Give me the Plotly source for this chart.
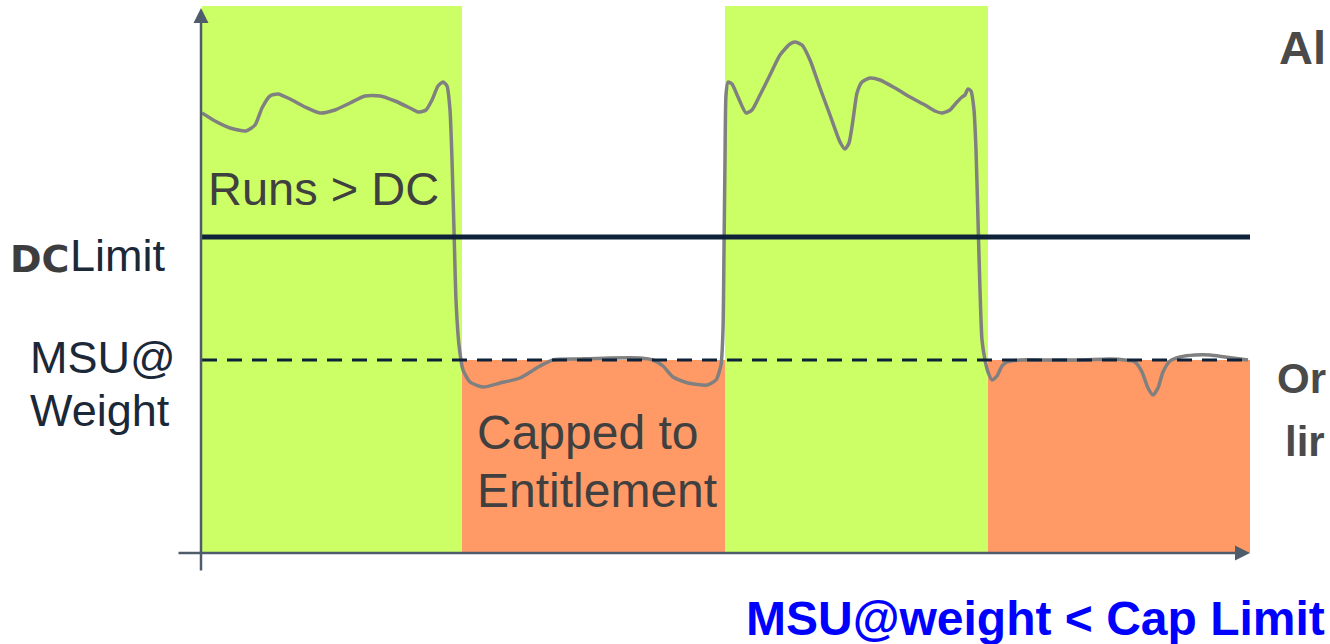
import plotly.graph_objects as go

# ---------------- data ----------------
# time axis runs 0..1048, usage axis 0..547
phase_start = [0, 260, 523, 786]
phase_end = [260, 523, 786, 1048]
phase_kind = ["runs", "capped", "runs", "capped"]
DC_LIMIT = 316
MSU_WEIGHT = 193
TOP = 547

time_pts = [0, 13, 28, 44, 53, 60, 68, 76, 88, 103, 118, 133, 148, 163, 178, 193, 208, 216,
            224, 230, 236, 241, 245, 248, 250, 252, 254, 257, 261, 268, 281, 298, 318, 338,
            351, 378, 408, 438, 451, 461, 471, 486, 505, 514, 519, 521, 522, 523, 524, 526,
            530, 536, 544, 550, 558, 568, 578, 588, 593, 600, 608, 618, 628, 638, 643, 647,
            651, 655, 660, 668, 678, 693, 708, 723, 733, 740, 748, 755, 760, 763, 766, 769,
            772, 774, 776, 778, 780, 783, 786, 790, 795, 800, 805, 818, 848, 878, 908, 923,
            933, 940, 946, 951, 956, 961, 968, 978, 993, 1008, 1023, 1046]
usage_pts = [440, 432, 425, 422, 428, 445, 457, 459, 454, 446, 440, 443, 450, 457, 457, 452,
             445, 441, 443, 453, 467, 471, 467, 443, 393, 323, 253, 208, 183, 171, 166, 170,
             175, 187, 193, 194, 195, 195, 193, 187, 176, 170, 168, 173, 188, 223, 303, 393,
             458, 471, 469, 456, 440, 443, 458, 478, 498, 509, 511, 508, 493, 465, 438, 411,
             404, 410, 433, 460, 471, 475, 473, 465, 456, 448, 442, 440, 443, 451, 456, 458,
             464, 462, 443, 403, 333, 263, 213, 193, 181, 173, 177, 187, 191, 193, 193, 193,
             194, 193, 191, 181, 165, 158, 165, 181, 192, 196, 198, 198, 196, 193]

label_runs = "Runs > DC"
label_capped = ["Capped to", "Entitlement"]
label_msu = ["MSU@", "Weight"]
label_dc = ["DC", "Limit"]
label_bottom = "MSU@weight < Cap Limit"
label_right = ["Al", "Or", "lir"]

# ---------------- layout geometry ----------------
W, H = 1330, 644
L, R, T, B = 202, 80, 6, 91
PW, PH = W - L - R, H - T - B


def px(x):
    return (x - L) / PW


def py(y):
    return (H - B - y) / PH


GREEN = "#ccff66"
ORANGE = "#ff9966"
NAVY = "#0e2339"
AXIS = "#4f5d6b"
TEXT = "#404040"

fig = go.Figure()

shapes = []
for s, e, k in zip(phase_start, phase_end, phase_kind):
    shapes.append(dict(type="rect", xref="x", yref="y", x0=s, x1=e, y0=0,
                       y1=TOP if k == "runs" else MSU_WEIGHT,
                       fillcolor=GREEN if k == "runs" else ORANGE,
                       line=dict(width=0), layer="below"))
# DC limit line
shapes.append(dict(type="line", xref="x", yref="y", x0=0, x1=phase_end[-1],
                   y0=DC_LIMIT, y1=DC_LIMIT, line=dict(color=NAVY, width=5)))
# MSU@weight dashed line
shapes.append(dict(type="line", xref="x", yref="y", x0=0, x1=phase_end[-1],
                   y0=MSU_WEIGHT, y1=MSU_WEIGHT,
                   line=dict(color=NAVY, width=3, dash="15px,10px")))
fig.update_layout(shapes=shapes)

fig.add_trace(go.Scatter(x=time_pts, y=usage_pts, mode="lines",
                         line=dict(color="#808080", width=3.5, shape="spline", smoothing=0.6),
                         hoverinfo="skip", showlegend=False))

annotations = []
# axes with arrowheads
annotations.append(dict(xref="paper", yref="paper", x=px(1250), y=py(553), ax=-(1250 - 177),
                        ay=0, showarrow=True, arrowhead=2, arrowsize=1.2, arrowwidth=2.5,
                        arrowcolor=AXIS, text=""))
annotations.append(dict(xref="paper", yref="paper", x=px(201), y=py(8), ax=0, ay=(572 - 8),
                        showarrow=True, arrowhead=2, arrowsize=1.2, arrowwidth=2.5,
                        arrowcolor=AXIS, text=""))

FONT = "Liberation Sans, Arial, sans-serif"


def txt(s, x, y, size, color, xanchor="left", bold=False, family=FONT):
    annotations.append(dict(xref="paper", yref="paper", x=px(x), y=py(y),
                            text=("<b>%s</b>" % s) if bold else s,
                            showarrow=False, xanchor=xanchor, yanchor="middle",
                            font=dict(family=family, size=size, color=color)))


txt(label_runs, 206, 189, 47, TEXT)
txt(label_dc[0], 71, 259, 38, "#3d3d3d", xanchor="right", bold=True, family="DejaVu Sans")
txt(label_dc[1], 68, 255, 45, "#1b2838")
txt(label_msu[0], 28, 358, 45, "#1b2838")
txt(label_msu[1], 28, 410, 45, "#1b2838")
txt(label_capped[0], 475, 432, 48, TEXT)
txt(label_capped[1], 475, 490, 48, TEXT)
txt(label_right[0], 1328, 47, 47, "#4a4a4a", xanchor="right", bold=True)
txt(label_right[1], 1328, 378, 42, "#4a4a4a", xanchor="right", bold=True)
txt(label_right[2], 1283, 442, 42, "#4a4a4a", bold=True)
txt(label_bottom, 1327, 618, 48, "#0000ff", xanchor="right", bold=True)

fig.update_layout(
    annotations=annotations,
    width=W, height=H,
    margin=dict(l=L, r=R, t=T, b=B),
    paper_bgcolor="white", plot_bgcolor="white",
    xaxis=dict(range=[0, 1048], visible=False, fixedrange=True),
    yaxis=dict(range=[0, 547], visible=False, fixedrange=True),
    showlegend=False,
)

fig.write_html("out.html", config={"displayModeBar": False})
